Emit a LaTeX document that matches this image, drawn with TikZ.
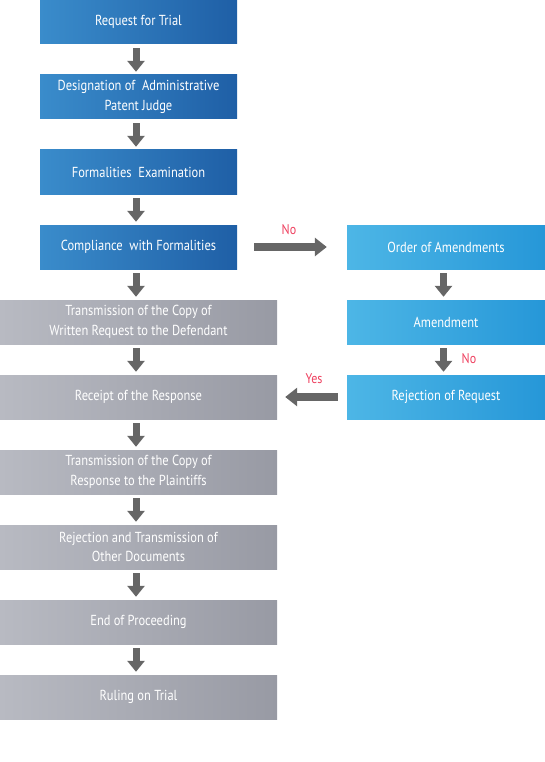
\documentclass[tikz,border=0pt]{standalone}
\usepackage{fontspec}
\setmainfont{PT Sans}[FakeStretch=0.86]
\usetikzlibrary{arrows.meta}
\definecolor{bluel}{HTML}{3A8CCB}
\definecolor{blued}{HTML}{1F5FA6}
\definecolor{skyl}{HTML}{4DB6E6}
\definecolor{skyd}{HTML}{2697D8}
\definecolor{greyl}{HTML}{B8BAC2}
\definecolor{greyd}{HTML}{989AA4}
\definecolor{arrowc}{HTML}{666666}
\definecolor{labc}{HTML}{EE3F5E}
\tikzset{
  box/.style={minimum height=44pt, inner sep=0pt, align=center, text=white,
    font=\fontsize{14.5}{19.5}\selectfont},
  bluebox/.style={box, minimum width=197pt, left color=bluel, right color=blued},
  greybox/.style={box, minimum width=277pt, left color=greyl, right color=greyd},
  skybox/.style={box, minimum width=198pt, left color=skyl, right color=skyd},
  downarr/.style={draw=arrowc, line width=7pt, -{Triangle[length=11pt,width=17pt]},
    shorten <=4pt, shorten >=3pt},
  flowarr/.style={draw=arrowc, line width=8.5pt, -{Triangle[length=12pt,width=18pt]}},
  lab/.style={text=labc, font=\fontsize{14}{16}\selectfont, inner sep=0pt}
}
\begin{document}
\begin{tikzpicture}[x=1pt,y=-1pt]
\useasboundingbox (0,0) rectangle (545,762);
\node[bluebox] (req) at (138.5,22) {Request for Trial};
\node[bluebox] (des) at (138.5,97) {Designation of \ Administrative\\Patent Judge};
\node[bluebox] (form) at (138.5,172) {Formalities \ Examination};
\node[bluebox] (comp) at (138.5,247) {Compliance \ with Formalities};
\node[greybox] (trans) at (138.5,322) {Transmission of the Copy of\\Written Request to the Defendant};
\node[greybox] (rec) at (138.5,397) {Receipt of the Response};
\node[greybox] (tresp) at (138.5,472) {Transmission of the Copy of\\Response to the Plaintiffs};
\node[greybox] (rej) at (138.5,547) {Rejection and Transmission of\\Other Documents};
\node[greybox] (end) at (138.5,622) {End of Proceeding};
\node[greybox] (rul) at (138.5,697) {Ruling on Trial};
\node[skybox] (ord) at (446,247) {Order of Amendments};
\node[skybox] (amd) at (446,322) {Amendment};
\node[skybox] (rjr) at (446,397) {Rejection of Request};
\foreach \a/\b in {req/des,des/form,form/comp,comp/trans,trans/rec,rec/tresp,tresp/rej,rej/end,end/rul,ord/amd,amd/rjr}
  \draw[downarr] ([xshift=-2.5pt]\a.south) -- ([xshift=-2.5pt]\b.north);
\draw[flowarr, shorten <=17pt, shorten >=20pt] (comp.east) -- (ord.west);
\draw[flowarr, shorten <=9pt, shorten >=8pt] (rjr.west) -- (rec.east);
\node[lab] (no1) at (289,230) {No};
\node[lab] (no2) at (469,359) {No};
\node[lab] (yes) at (314,379) {Yes};
\end{tikzpicture}
\end{document}
